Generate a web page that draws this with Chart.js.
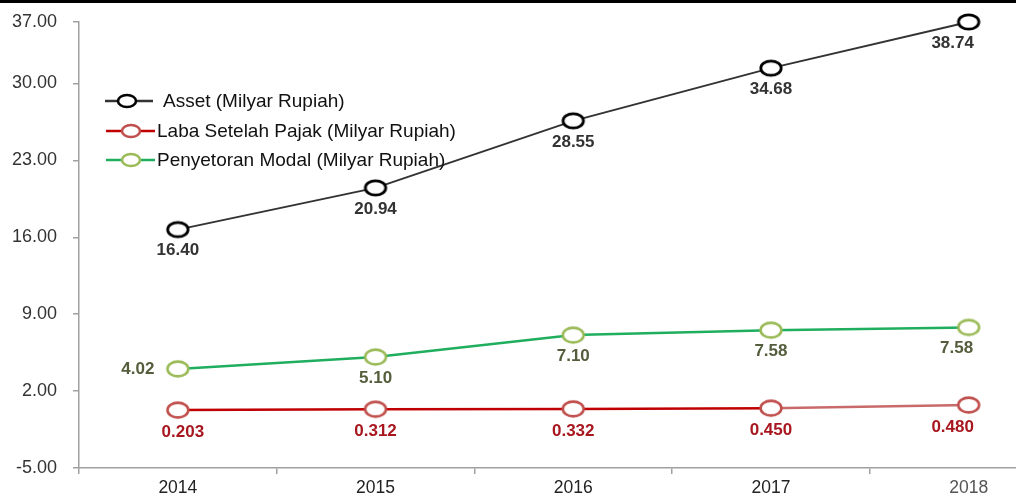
<!DOCTYPE html>
<html>
<head>
<meta charset="utf-8">
<script src="https://cdn.jsdelivr.net/npm/chart.js@4.4.1/dist/chart.umd.min.js"></script>
<style>
  html, body { margin: 0; padding: 0; background: #fff; overflow: hidden; }
  #wrap { position: relative; width: 1080px; height: 497px; }
  #topline { position: absolute; left: 0; top: 0; width: 1016px; height: 3px; background: #000; z-index: 2; }
</style>
</head>
<body>
<div id="wrap">
  <div id="topline"></div>
  <canvas id="c" width="1080" height="497"></canvas>
</div>
<script>
// ---- data ----
const years = ["2014", "2015", "2016", "2017", "2018"];
const seriesNames = ["Asset (Milyar Rupiah)", "Laba Setelah Pajak (Milyar Rupiah)", "Penyetoran Modal (Milyar Rupiah)"];
// positions
const assetValues = [16.7, 20.5, 26.6, 31.4, 35.6];
const labaValues = [0.27, 0.35, 0.38, 0.45, 0.73];
const modalValues = [4.02, 5.10, 7.10, 7.55, 7.80];
// printed data labels
const assetLabels = ["16.40", "20.94", "28.55", "34.68", "38.74"];
const labaLabels = ["0.203", "0.312", "0.332", "0.450", "0.480"];
const modalLabels = ["4.02", "5.10", "7.10", "7.58", "7.58"];
// y axis ticks
const yTickValues = [-5, 2, 9, 16, 23, 30, 35.6];
const yTickLabels = ["-5.00", "2.00", "9.00", "16.00", "23.00", "30.00", "37.00"];

const FONT = "'Liberation Sans', Arial, sans-serif";

function ellipseMarker(stroke, w, h, lw) {
  const c = document.createElement('canvas');
  c.width = w; c.height = h;
  const g = c.getContext('2d');
  g.beginPath();
  g.ellipse(w / 2, h / 2, w / 2 - lw, h / 2 - lw, 0, 0, Math.PI * 2);
  g.fillStyle = '#fff';
  g.fill();
  g.lineWidth = lw;
  g.strokeStyle = stroke;
  g.stroke();
  return c;
}

const styles = [
  { line: '#333333', marker: '#000000', label: '#333333', labels: assetLabels },
  { line: '#c00000', marker: '#c0504d', label: '#a8171f', labels: labaLabels },
  { line: '#1fae5e', marker: '#9bbb59', label: '#545d3c', labels: modalLabels }
];

const dataLabelPlugin = {
  id: 'dataLabels',
  afterDatasetsDraw(chart) {
    const ctx = chart.ctx;
    ctx.save();
    ctx.font = "bold 17px " + FONT;
    ctx.textAlign = 'center';
    ctx.textBaseline = 'middle';
    chart.data.datasets.forEach((ds, di) => {
      const meta = chart.getDatasetMeta(di);
      const st = styles[di];
      ctx.fillStyle = st.label;
      meta.data.forEach((pt, i) => {
        let x = pt.x, y = pt.y + 21;
        if (di === 2 && i === 0) { x = pt.x - 40; y = pt.y; }
        if (di === 1) { y = pt.y + 22; if (i === 0) x = pt.x + 5; }
        if (i === 4) { x = pt.x - 16; }
        if (di === 2 && i === 4) { x = pt.x - 12; }
        ctx.fillText(st.labels[i], x, y);
      });
    });
    ctx.restore();
  }
};

const legendPlugin = {
  id: 'insideLegend',
  afterDraw(chart) {
    const ctx = chart.ctx;
    ctx.save();
    ctx.font = "19px " + FONT;
    ctx.textBaseline = 'middle';
    ctx.textAlign = 'left';
    const ys = [101, 131, 160];
    chart.data.datasets.forEach((ds, di) => {
      const y = ys[di];
      const st = styles[di];
      const mx = di === 0 ? 127 : 131;
      ctx.strokeStyle = st.line;
      ctx.lineWidth = 2.5;
      ctx.beginPath();
      ctx.moveTo(di === 0 ? 105 : 106, y);
      ctx.lineTo(di === 0 ? 153 : 155, y);
      ctx.stroke();
      ctx.beginPath();
      ctx.ellipse(mx, y, 9, 6, 0, 0, Math.PI * 2);
      ctx.fillStyle = '#fff';
      ctx.fill();
      ctx.strokeStyle = st.marker;
      ctx.lineWidth = 2.6;
      ctx.stroke();
      ctx.fillStyle = '#111';
      ctx.fillText(ds.label, di === 0 ? 163 : 157, y + 1);
    });
    ctx.restore();
  }
};

new Chart(document.getElementById('c'), {
  type: 'line',
  data: {
    labels: years,
    datasets: [
      { label: seriesNames[0], data: assetValues, borderColor: styles[0].line, borderWidth: 2,
        pointStyle: ellipseMarker(styles[0].marker, 26, 20, 2.8), clip: false },
      { label: seriesNames[1], data: labaValues, borderColor: styles[1].line, borderWidth: 2.5,
        segment: { borderColor: c => c.p0DataIndex === 3 ? '#c86a6a' : undefined },
        pointStyle: ellipseMarker(styles[1].marker, 26, 20, 2.6), clip: false },
      { label: seriesNames[2], data: modalValues, borderColor: styles[2].line, borderWidth: 2.5,
        pointStyle: ellipseMarker(styles[2].marker, 26, 20, 2.6), clip: false }
    ]
  },
  options: {
    responsive: false,
    animation: false,
    layout: { padding: { top: 22, right: 11, left: 0, bottom: 0 } },
    plugins: { legend: { display: false }, tooltip: { enabled: false } },
    elements: { line: { tension: 0 }, point: { radius: 10 } },
    scales: {
      x: {
        type: 'category',
        offset: true,
        grid: { display: true, drawOnChartArea: false, offset: true, tickLength: 6, color: '#a0a0a0', lineWidth: 1.5 },
        border: { color: '#a0a0a0', width: 1.5 },
        ticks: {
          color: c => (c.index === 4 ? '#555' : '#222'),
          font: { family: FONT, size: 17.5 }, padding: 4
        },
        afterFit(s) { s.height = 29; s.paddingLeft = 0; s.paddingRight = 0; }
      },
      y: {
        min: -5,
        max: 35.6,
        afterBuildTicks(s) { s.ticks = yTickValues.map(v => ({ value: v })); },
        grid: { display: true, drawOnChartArea: false, tickLength: 6, color: '#a0a0a0', lineWidth: 1.5 },
        border: { color: '#a0a0a0', width: 1.5 },
        ticks: {
          color: '#333', font: { family: FONT, size: 18 }, padding: 16,
          callback(v) { const i = yTickValues.indexOf(v); return i >= 0 ? yTickLabels[i] : ''; }
        },
        afterFit(s) { s.width = 79; s.paddingTop = 0; s.paddingBottom = 0; }
      }
    }
  },
  plugins: [dataLabelPlugin, legendPlugin]
});
</script>
</body>
</html>
